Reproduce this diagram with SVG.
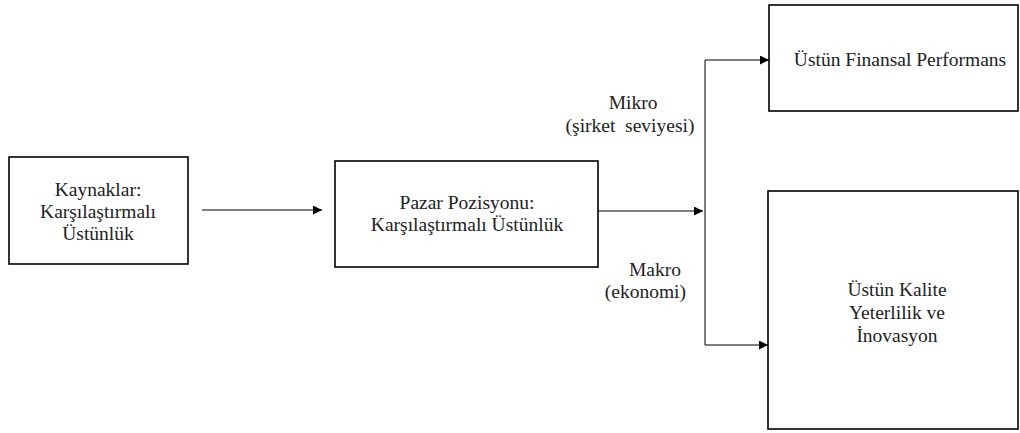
<svg xmlns="http://www.w3.org/2000/svg" width="1020" height="433" viewBox="0 0 1020 433">
<defs>
<style>
.box{fill:#fff;stroke:#000;stroke-width:1.6}
.t{font-family:'Liberation Serif','DejaVu Serif',serif;font-size:19.5px;fill:#222;text-anchor:middle}
.e{text-anchor:end}
.c{fill:none;stroke:#000;stroke-width:1}
</style>
<marker id="ah" viewBox="0 0 10 10" refX="10" refY="5" markerWidth="9" markerHeight="9" markerUnits="userSpaceOnUse" orient="auto">
<path d="M0,0 L10,5 L0,10 z" fill="#000"/>
</marker>
</defs>
<rect width="1020" height="433" fill="#fff"/>
<g id="connectors">
<line class="c" x1="202" y1="210" x2="322" y2="210" marker-end="url(#ah)"/>
<line class="c" x1="598" y1="211" x2="703" y2="211" marker-end="url(#ah)"/>
<polyline class="c" points="705,60 705,345" />
<line class="c" x1="705" y1="60" x2="769" y2="60" marker-end="url(#ah)"/>
<line class="c" x1="705" y1="345" x2="768" y2="345" marker-end="url(#ah)"/>
<text class="t" x="633" y="109">Mikro</text>
<text class="t" x="630" y="132" xml:space="preserve">(şirket  seviyesi)</text>
<text class="t e" x="681" y="276">Makro</text>
<text class="t e" x="686" y="298">(ekonomi)</text>
</g>
<g id="n1">
<rect class="box" x="9" y="157" width="179" height="107"/>
<text class="t" x="98" y="196">Kaynaklar:</text>
<text class="t" x="98" y="218">Karşılaştırmalı</text>
<text class="t" x="98" y="240">Üstünlük</text>
</g>
<g id="n2">
<rect class="box" x="335" y="161" width="263" height="106"/>
<text class="t" x="467" y="209">Pazar Pozisyonu:</text>
<text class="t" x="467" y="231">Karşılaştırmalı Üstünlük</text>
</g>
<g id="n3">
<rect class="box" x="769" y="5" width="249" height="106"/>
<text class="t" x="900" y="66">Üstün Finansal Performans</text>
</g>
<g id="n4">
<rect class="box" x="768" y="191" width="250" height="238"/>
<text class="t" x="897" y="296">Üstün Kalite</text>
<text class="t" x="897" y="319">Yeterlilik ve</text>
<text class="t" x="897" y="342">İnovasyon</text>
</g>
</svg>
